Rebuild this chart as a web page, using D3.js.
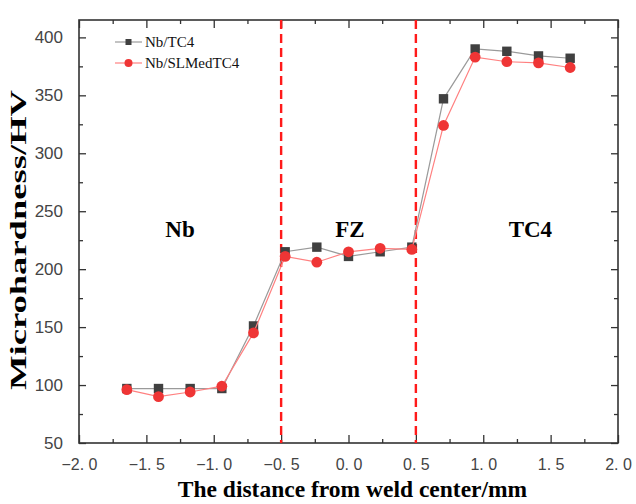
<!DOCTYPE html>
<html>
<head>
<meta charset="utf-8">
<script src="https://cdn.jsdelivr.net/npm/d3@7"></script>
<style>
  body { margin: 0; background: #fff; }
  svg { display: block; font-family: "Liberation Serif", "Times New Roman", serif; }
</style>
</head>
<body>
<svg id="chart"></svg>
<script>
// data
var distance = [-1.645, -1.41, -1.175, -0.94, -0.705, -0.47, -0.235, 0, 0.235, 0.47, 0.705, 0.94, 1.175, 1.41, 1.645];
var nbTC4 = [97, 97, 97, 97, 151, 215, 219, 211, 215, 219, 347, 390, 388, 384, 382];
var nbSLMedTC4 = [96, 90, 94, 99, 145, 211, 206, 215, 218, 217, 324, 383, 379, 378, 374];
var seriesNames = ["Nb/TC4", "Nb/SLMedTC4"];
var xTicks = [-2, -1.5, -1, -0.5, 0, 0.5, 1, 1.5, 2];
var yTicks = [50, 100, 150, 200, 250, 300, 350, 400];
var boundaries = [-0.5, 0.5];
var zones = [{name: "Nb", x: -1.25}, {name: "FZ", x: 0.01}, {name: "TC4", x: 1.35}];

var margin = {top: 20, right: 18, bottom: 61, left: 79},
  width = 636 - margin.left - margin.right,
  height = 504 - margin.top - margin.bottom;

var svg = d3.select("#chart")
  .attr("width", 636)
  .attr("height", 504)
  .append("g")
  .attr("transform", "translate(" + margin.left + "," + margin.top + ")");

var x = d3.scaleLinear().domain([-2, 2]).range([0, width]);
var y = d3.scaleLinear().domain([50, 415]).range([height, 0]);

var fmtX = function(d) { return d3.format(".1f")(d).replace("-", "\u2212").replace(".", ". "); };

var minorX = d3.range(-1.75, 2, 0.5);
var minorY = d3.range(75, 415, 50);

function styleAxis(g) {
  g.select(".domain").remove();
  g.selectAll(".tick line").attr("stroke", "#333").attr("stroke-width", 1.3);
  g.selectAll(".tick text").attr("fill", "#444");
}

// bottom axis
svg.append("g")
  .attr("transform", "translate(0," + height + ")")
  .call(d3.axisBottom(x).tickValues(xTicks).tickFormat(fmtX).tickSize(-8).tickPadding(16))
  .call(styleAxis)
  .selectAll("text").style("font-size", "16px");
svg.append("g")
  .attr("transform", "translate(0," + height + ")")
  .call(d3.axisBottom(x).tickValues(minorX).tickFormat("").tickSize(-4))
  .call(styleAxis);
// top axis
svg.append("g")
  .call(d3.axisTop(x).tickValues(xTicks).tickFormat("").tickSize(-8))
  .call(styleAxis);
svg.append("g")
  .call(d3.axisTop(x).tickValues(minorX).tickFormat("").tickSize(-4))
  .call(styleAxis);
// left axis
svg.append("g")
  .call(d3.axisLeft(y).tickValues(yTicks).tickSize(-7).tickPadding(16))
  .call(styleAxis)
  .selectAll("text").style("font-size", "17px");
svg.append("g")
  .call(d3.axisLeft(y).tickValues(minorY).tickFormat("").tickSize(-4))
  .call(styleAxis);
// right axis
svg.append("g")
  .attr("transform", "translate(" + width + ",0)")
  .call(d3.axisRight(y).tickValues(yTicks).tickFormat("").tickSize(-7))
  .call(styleAxis);
svg.append("g")
  .attr("transform", "translate(" + width + ",0)")
  .call(d3.axisRight(y).tickValues(minorY).tickFormat("").tickSize(-4))
  .call(styleAxis);

// frame
svg.append("rect")
  .attr("width", width).attr("height", height)
  .attr("fill", "none").attr("stroke", "#333").attr("stroke-width", 1.6);

// zone boundaries
svg.selectAll(".boundary")
  .data(boundaries)
  .enter().append("line")
  .attr("class", "boundary")
  .attr("x1", d => x(d)).attr("x2", d => x(d))
  .attr("y1", 0).attr("y2", height)
  .attr("stroke", "#ff1a1a").attr("stroke-width", 2.4)
  .attr("stroke-dasharray", "9,5");

// zone labels
svg.selectAll(".zone")
  .data(zones)
  .enter().append("text")
  .attr("x", d => x(d.x))
  .attr("y", 217)
  .attr("text-anchor", "middle")
  .style("font-size", "23px").style("font-weight", "bold")
  .text(d => d.name);

var line = d3.line().x(d => x(d[0])).y(d => y(d[1]));
var blackPts = distance.map((d, i) => [d, nbTC4[i]]);
var redPts = distance.map((d, i) => [d, nbSLMedTC4[i]]);

svg.append("path").datum(blackPts)
  .attr("d", line).attr("fill", "none").attr("stroke", "#9a9a9a").attr("stroke-width", 1.2);
svg.selectAll(".sq").data(blackPts).enter().append("rect")
  .attr("x", d => x(d[0]) - 4.7).attr("y", d => y(d[1]) - 4.7)
  .attr("width", 9.4).attr("height", 9.4).attr("fill", "#404040");

svg.append("path").datum(redPts)
  .attr("d", line).attr("fill", "none").attr("stroke", "#ff8080").attr("stroke-width", 1.2);
svg.selectAll(".ci").data(redPts).enter().append("circle")
  .attr("cx", d => x(d[0])).attr("cy", d => y(d[1]))
  .attr("r", 5.4).attr("fill", "#ef3535");

// legend
var legend = svg.append("g").attr("transform", "translate(36,22)");
seriesNames.forEach(function(name, i) {
  var row = legend.append("g").attr("transform", "translate(0," + (i * 21) + ")");
  row.append("line").attr("x1", 0).attr("x2", 27).attr("y1", 0).attr("y2", 0)
    .attr("stroke", i ? "#ff8080" : "#9a9a9a").attr("stroke-width", 1.2);
  if (i) row.append("circle").attr("cx", 13.5).attr("cy", 0).attr("r", 4).attr("fill", "#ef3535");
  else row.append("rect").attr("x", 10.5).attr("y", -3).attr("width", 6).attr("height", 6).attr("fill", "#404040");
  row.append("text").attr("x", 30).attr("y", 5).style("font-size", "15px").attr("fill", "#111").text(name);
});

// axis titles
svg.append("text")
  .attr("x", width / 2 + 4).attr("y", height + 54)
  .attr("text-anchor", "middle")
  .style("font-size", "23.5px").style("font-weight", "bold")
  .text("The distance from weld center/mm");

svg.append("text")
  .attr("transform", "translate(-53," + 220 + ") rotate(-90)")
  .attr("text-anchor", "middle")
  .attr("textLength", 300).attr("lengthAdjust", "spacingAndGlyphs")
  .style("font-size", "23.5px").style("font-weight", "bold")
  .text("Microhardness/HV");
</script>
</body>
</html>
